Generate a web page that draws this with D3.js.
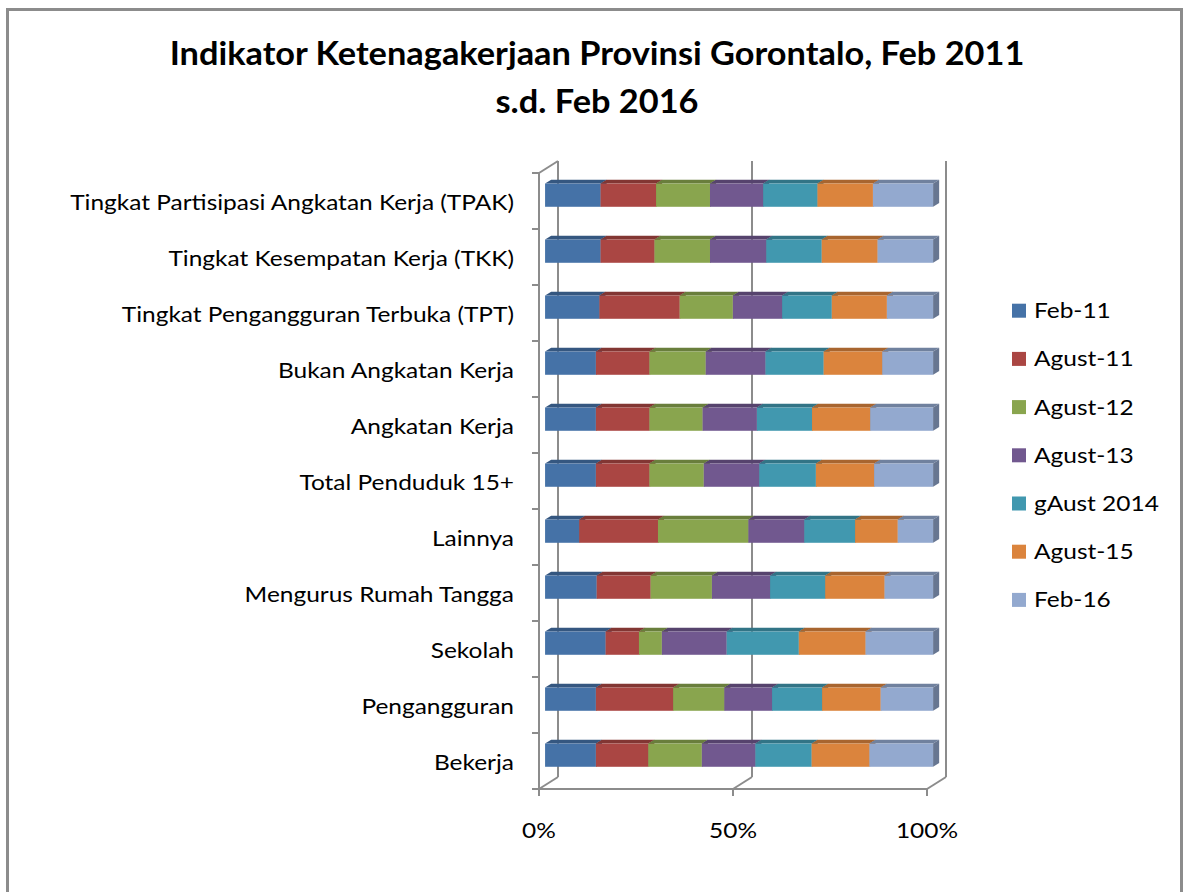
<!DOCTYPE html>
<html>
<head>
<meta charset="utf-8">
<script src="https://cdn.jsdelivr.net/npm/d3@7"></script>
<style>
  body { margin: 0; background: #fff; }
  text { font-family: Lato, "Open Sans", sans-serif; fill: #000; }
</style>
</head>
<body>
<svg id="chart"></svg>
<script>
// categories top -> bottom
const categories = [
  "Tingkat Partisipasi Angkatan Kerja (TPAK)",
  "Tingkat Kesempatan Kerja (TKK)",
  "Tingkat Pengangguran Terbuka (TPT)",
  "Bukan Angkatan Kerja",
  "Angkatan Kerja",
  "Total Penduduk 15+",
  "Lainnya",
  "Mengurus Rumah Tangga",
  "Sekolah",
  "Pengangguran",
  "Bekerja"
];
const seriesNames = ["Feb-11", "Agust-11", "Agust-12", "Agust-13", "gAust 2014", "Agust-15", "Feb-16"];
const feb11  = [14.3, 14.3, 14.0, 13.1, 13.1, 13.1,  8.8, 13.3, 15.6, 13.1, 13.1];
const agu11  = [14.3, 13.9, 20.7, 13.8, 13.8, 13.8, 20.3, 13.9,  8.6, 19.9, 13.5];
const agu12  = [13.9, 14.3, 13.7, 14.5, 13.7, 14.0, 23.3, 15.8,  5.9, 13.2, 13.8];
const agu13  = [13.7, 14.5, 12.7, 15.4, 14.0, 14.3, 14.4, 15.0, 16.7, 12.3, 13.8];
const agu14  = [14.0, 14.3, 12.8, 15.0, 14.2, 14.6, 13.1, 14.2, 18.6, 12.9, 14.5];
const agu15  = [14.3, 14.4, 14.2, 15.1, 15.0, 15.0, 11.0, 15.3, 17.2, 15.1, 14.9];
const feb16  = [15.5, 14.3, 11.9, 13.1, 16.2, 15.2,  9.1, 12.5, 17.4, 13.5, 16.4];
const xTicks = [0, 0.5, 1];
const titleLines = ["Indikator Ketenagakerjaan Provinsi Gorontalo, Feb 2011", "s.d. Feb 2016"];

const colors = ["#4572A7", "#AA4643", "#89A54E", "#71588F", "#4198AF", "#DB843D", "#93A9CF"];

const allSeries = [feb11, agu11, agu12, agu13, agu14, agu15, feb16];
const rows = categories.map((c, i) => {
  const r = { cat: c };
  seriesNames.forEach((s, j) => r[s] = allSeries[j][i]);
  return r;
});

const width = 1184, height = 892;
const svg = d3.select('#chart').attr('width', width).attr('height', height);

svg.append('rect').attr('width', width).attr('height', height).attr('fill', '#fff');
svg.append('rect').attr('x', 7.5).attr('y', 9.5).attr('width', 1174).attr('height', 920)
  .attr('fill', 'none').attr('stroke', '#8c8c8c').attr('stroke-width', 3);

// 3d projection of the depth axis
const depthX = 19, depthY = -12;
const zFront = 0.32, zBack = 0.64;

const x = d3.scaleLinear().domain([0, 1]).range([539, 927]);
const y = d3.scaleBand().domain(categories).range([173, 789]).paddingInner(0.585).paddingOuter(0.2925);
const step = y.step();
const top0 = 173, bottom0 = 789;

const gridColor = '#8c8c8c';
const axes = svg.append('g').attr('stroke', gridColor).attr('stroke-width', 2).attr('fill', 'none');

// back wall gridlines
xTicks.forEach(t => {
  axes.append('line').attr('x1', x(t) + depthX).attr('x2', x(t) + depthX)
    .attr('y1', top0 + depthY).attr('y2', bottom0 + depthY);
  axes.append('line').attr('x1', x(t)).attr('x2', x(t) + depthX)
    .attr('y1', bottom0).attr('y2', bottom0 + depthY);
  axes.append('line').attr('x1', x(t)).attr('x2', x(t))
    .attr('y1', bottom0).attr('y2', bottom0 + 7);
});
// side wall
axes.append('line').attr('x1', x(0)).attr('x2', x(0)).attr('y1', top0).attr('y2', bottom0);
axes.append('line').attr('x1', x(0)).attr('x2', x(0) + depthX).attr('y1', top0).attr('y2', top0 + depthY);
// floor front edge
axes.append('line').attr('x1', x(0) - 1).attr('x2', x(1)).attr('y1', bottom0).attr('y2', bottom0);
// category ticks
d3.range(categories.length + 1).forEach(i => {
  axes.append('line').attr('x1', x(0) - 7).attr('x2', x(0))
    .attr('y1', top0 + i * step).attr('y2', top0 + i * step);
});

// stacked 3d bars
const stack = d3.stack().keys(seriesNames).offset(d3.stackOffsetExpand);
const stacked = stack(rows);

const fx = zFront * depthX, fy = zFront * depthY - 2;
const bx = (zBack - zFront) * depthX, by = (zBack - zFront) * depthY;
const bh = y.bandwidth();

const bars = svg.append('g');
categories.forEach((c, ci) => {
  stacked.forEach((s, si) => {
    const d = s[ci];
    const x0 = x(d[0]) + fx, x1 = x(d[1]) + fx;
    const yt = y(c) + fy;
    const col = d3.color(colors[si]);
    const g = bars.append('g');
    // top face
    g.append('path')
      .attr('d', `M${x0},${yt}L${x0 + bx},${yt + by}L${x1 + bx},${yt + by}L${x1},${yt}Z`)
      .attr('fill', col.darker(0.75));
    // side face
    g.append('path')
      .attr('d', `M${x1},${yt}L${x1 + bx},${yt + by}L${x1 + bx},${yt + bh + by}L${x1},${yt + bh}Z`)
      .attr('fill', col.darker(1.0));
    // front face
    g.append('rect').attr('x', x0).attr('y', yt).attr('width', x1 - x0).attr('height', bh)
      .attr('fill', colors[si]);
  });
});

// width of a string at a given size
function textWidth(str, size, weight) {
  const t = svg.append('text').attr('font-size', size).attr('font-weight', weight).text(str);
  const w = t.node().getComputedTextLength();
  t.remove();
  return w;
}

// text is set at a height-matched size and squeezed horizontally (reference font is narrow)
const smallSize = 21.5;
const smallK = 444 / textWidth(categories[0], smallSize, 400);
const titleSize = 32;
const titleK = 855 / textWidth(titleLines[0], titleSize, 700);

function addText(parent, data, px, py, anchor, size, weight, k) {
  return parent.selectAll('g').data(data).join('g')
    .attr('transform', (d, i) => `translate(${px(d, i)},${py(d, i)}) scale(${k},1)`)
    .append('text').attr('text-anchor', anchor)
    .attr('font-size', size).attr('font-weight', weight).text(d => d);
}

// category labels
addText(svg.append('g'), categories, () => 514, d => y(d) + bh / 2 + 9,
  'end', smallSize, 400, smallK);

// x tick labels
addText(svg.append('g'), xTicks.map(d3.format('.0%')), (d, i) => x(xTicks[i]), () => 838,
  'middle', smallSize, 400, smallK);

// title
addText(svg.append('g'), titleLines, () => 597, (d, i) => 65 + i * 48,
  'middle', titleSize, 700, titleK);

// legend
const legend = svg.append('g').selectAll('g').data(seriesNames).join('g')
  .attr('transform', (d, i) => `translate(1012,${310.7 + i * 48.2})`);
legend.append('rect').attr('x', 0).attr('y', -7).attr('width', 14).attr('height', 14)
  .attr('fill', (d, i) => colors[i]);
legend.append('text').attr('transform', `translate(22,7.5) scale(${smallK},1)`)
  .attr('font-size', smallSize).text(d => d);
</script>
</body>
</html>
